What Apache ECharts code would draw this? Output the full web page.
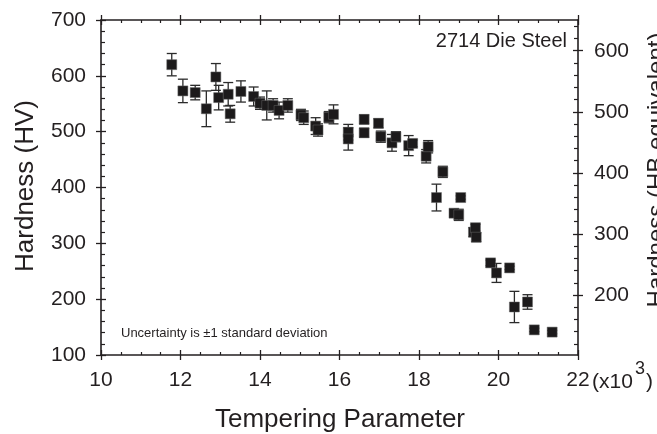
<!DOCTYPE html>
<html>
<head>
<meta charset="utf-8">
<script src="https://cdn.jsdelivr.net/npm/echarts@6/dist/echarts.min.js"></script>
<style>
  html, body { margin: 0; padding: 0; background: #fff; }
  #chart { width: 657px; height: 434px; }
</style>
</head>
<body>
<div id="chart"></div>
<script>
// Tempering parameter (x10^3) of each measured specimen
const tempering = [11.78, 12.06, 12.37, 12.65, 12.89, 12.96, 13.20, 13.25, 13.52, 13.84,
  14.00, 14.17, 14.33, 14.48, 14.70, 15.03, 15.10, 15.40, 15.46, 15.73,
  15.85, 16.22, 16.22, 16.62, 16.62, 16.98, 17.04, 17.32, 17.42, 17.74,
  17.84, 18.18, 18.23, 18.44, 18.60, 18.88, 19.00, 19.05, 19.37, 19.42,
  19.44, 19.80, 19.95, 20.28, 20.40, 20.73, 20.90, 21.35];
// Mean Vickers hardness (HV)
const hardnessHV = [620, 573, 570, 541, 598, 561, 567, 532, 572, 563,
  551, 547, 547, 538, 547, 530, 525, 510, 503, 526,
  531, 499, 487, 522, 498, 515, 491, 480, 491, 475,
  479, 456, 473, 382, 428, 354, 351, 382, 320, 328,
  311, 265, 247, 256, 186, 195, 145, 141];
// One standard deviation (HV)
const stdDevHV = [20, 21, 13, 32, 24, 22, 21, 15, 19, 17,
  11, 26, 12, 15, 12, 10, 12, 15, 11, 10,
  17, 14, 20, 8, 8, 8, 10, 15, 9, 18,
  6, 12, 11, 24, 10, 6, 10, 3, 8, 6,
  8, 5, 17, 3, 28, 13, 3, 3];

// Axis ticks
const xTicks = [10, 12, 14, 16, 18, 20, 22];
const hvTicks = [100, 200, 300, 400, 500, 600, 700];
const hbTicks = [200, 300, 400, 500, 600];
const hbMinorTicks = [120, 140, 160, 180, 220, 240, 260, 280, 320, 340, 360, 380,
  420, 440, 460, 480, 520, 540, 560, 580, 620, 640];
// HB equivalent range that spans the same height as the HV axis
const hbMin = 101.8, hbMax = 650.3;

const ink = '#231f20';
const FONT = '"Liberation Sans", Arial, Helvetica, sans-serif';

const points = tempering.map((t, i) => [t, hardnessHV[i]]);
const bars = tempering.map((t, i) => [t, hardnessHV[i] - stdDevHV[i], hardnessHV[i] + stdDevHV[i]]);

const lineStyle = { color: ink, width: 1.6 };

function xAxisDef(position, inside, labels) {
  return {
    type: 'value', position: position, min: xTicks[0], max: xTicks[xTicks.length - 1], interval: 2,
    axisLine: { show: inside, lineStyle: lineStyle, onZero: false },
    axisTick: { show: true, inside: inside, length: 5, lineStyle: { color: ink, width: 1.3 } },
    minorTick: { show: inside, splitNumber: 4, length: 3, lineStyle: { color: ink, width: 1.2 } },
    axisLabel: { show: labels, color: ink, fontSize: 21, fontFamily: FONT, margin: 15 },
    splitLine: { show: false }
  };
}

const option = {
  backgroundColor: '#fff',
  animation: false,
  grid: { left: 101, right: 79, top: 20, bottom: 79, containLabel: false },
  xAxis: [
    xAxisDef('bottom', true, true),
    xAxisDef('bottom', false, false),
    xAxisDef('top', true, false),
    xAxisDef('top', false, false)
  ],
  yAxis: [
    {
      type: 'value', position: 'left', min: hvTicks[0], max: hvTicks[hvTicks.length - 1], interval: 100,
      axisLine: { show: true, lineStyle: lineStyle, onZero: false },
      axisTick: { inside: true, length: 5, lineStyle: { color: ink, width: 1.3 } },
      minorTick: { show: true, splitNumber: 5, length: 4, lineStyle: { color: ink, width: 1.2 } },
      axisLabel: { color: ink, fontSize: 21, fontFamily: FONT, margin: 15 },
      splitLine: { show: false }
    },
    {
      type: 'value', position: 'left', min: hvTicks[0], max: hvTicks[hvTicks.length - 1], interval: 100,
      axisLine: { show: false },
      axisTick: { inside: false, length: 5, lineStyle: { color: ink, width: 1.3 } },
      axisLabel: { show: false }, splitLine: { show: false }
    },
    {
      type: 'value', position: 'right', min: hbMin, max: hbMax,
      axisLine: { show: true, lineStyle: lineStyle, onZero: false },
      axisTick: { show: true, inside: true, length: 5, customValues: hbTicks, lineStyle: { color: ink, width: 1.3 } },
      axisLabel: { show: true, customValues: hbTicks, color: ink, fontSize: 21, fontFamily: FONT, margin: 16 },
      splitLine: { show: false }
    },
    {
      type: 'value', position: 'right', min: hbMin, max: hbMax,
      axisLine: { show: false },
      axisTick: { show: true, inside: false, length: 5, customValues: hbTicks, lineStyle: { color: ink, width: 1.3 } },
      axisLabel: { show: false }, splitLine: { show: false }
    },
    {
      type: 'value', position: 'right', min: hbMin, max: hbMax,
      axisLine: { show: false },
      axisTick: { show: true, inside: true, length: 4, customValues: hbMinorTicks, lineStyle: { color: ink, width: 1.2 } },
      axisLabel: { show: false }, splitLine: { show: false }
    }
  ],
  series: [
    {
      // ±1 standard deviation whiskers
      type: 'custom',
      xAxisIndex: 0, yAxisIndex: 0,
      data: bars,
      encode: { x: 0, y: [1, 2] },
      z: 2,
      renderItem: function (params, api) {
        const x = api.value(0);
        const lo = api.coord([x, api.value(1)]);
        const hi = api.coord([x, api.value(2)]);
        const hw = 5;
        const st = { stroke: '#2b2b2b', lineWidth: 1.3 };
        return {
          type: 'group',
          children: [
            { type: 'line', shape: { x1: lo[0], y1: lo[1], x2: hi[0], y2: hi[1] }, style: st },
            { type: 'line', shape: { x1: lo[0] - hw, y1: lo[1], x2: lo[0] + hw, y2: lo[1] }, style: st },
            { type: 'line', shape: { x1: hi[0] - hw, y1: hi[1], x2: hi[0] + hw, y2: hi[1] }, style: st }
          ]
        };
      }
    },
    {
      type: 'scatter',
      xAxisIndex: 0, yAxisIndex: 0,
      data: points,
      symbol: 'rect',
      symbolSize: 10,
      z: 3,
      itemStyle: { color: '#1c1a1b', opacity: 1, borderColor: '#666', borderWidth: 0.5 }
    }
  ],
  graphic: [
    { type: 'text', x: 567, y: 41.5, style: { text: '2714 Die Steel', font: '20px ' + FONT, fill: ink, align: 'right', verticalAlign: 'middle' } },
    { type: 'text', x: 121, y: 333, style: { text: 'Uncertainty is ±1 standard deviation', font: '13px ' + FONT, fill: ink, align: 'left', verticalAlign: 'middle' } },
    { type: 'text', x: 592, y: 382, style: { text: '(x10', font: '21px ' + FONT, fill: ink, align: 'left', verticalAlign: 'middle' } },
    { type: 'text', x: 635, y: 369, style: { text: '3', font: '18px ' + FONT, fill: ink, align: 'left', verticalAlign: 'middle' } },
    { type: 'text', x: 646, y: 382, style: { text: ')', font: '21px ' + FONT, fill: ink, align: 'left', verticalAlign: 'middle' } },
    { type: 'text', x: 340, y: 420, style: { text: 'Tempering Parameter', font: '26px ' + FONT, fill: ink, align: 'center', verticalAlign: 'middle' } },
    { type: 'text', x: 26, y: 186, rotation: Math.PI / 2, style: { text: 'Hardness (HV)', font: '26px ' + FONT, fill: ink, align: 'center', verticalAlign: 'middle' } },
    { type: 'text', x: 657, y: 170, rotation: Math.PI / 2, style: { text: 'Hardness (HB equivalent)', font: '24px ' + FONT, fill: ink, align: 'center', verticalAlign: 'middle' } }
  ]
};

const chart = echarts.init(document.getElementById('chart'), null, { renderer: 'canvas' });
chart.setOption(option);
</script>
</body>
</html>
